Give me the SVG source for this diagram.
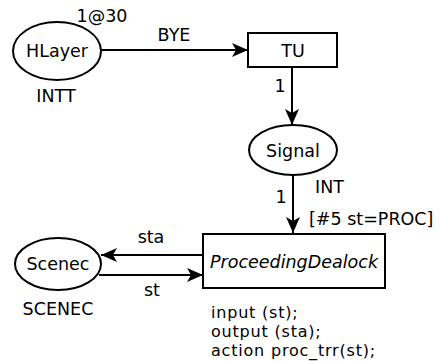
<svg xmlns="http://www.w3.org/2000/svg" width="440" height="361" viewBox="0 0 440 361">
<defs>
<marker id="ah" markerWidth="16" markerHeight="14" refX="16" refY="7" orient="auto" markerUnits="userSpaceOnUse">
<path d="M0,0 L16,7 L0,14 L4,7 Z" fill="#000"/>
</marker>
<style>
text{font-family:"DejaVu Sans","Verdana",sans-serif;font-size:17.5px;fill:#000}
.c{text-anchor:middle}
.code{font-size:16px;letter-spacing:0.8px}
.shape{fill:#fff;stroke:#000;stroke-width:2}
.arc{fill:none;stroke:#000;stroke-width:2;marker-end:url(#ah)}
</style>
</defs>
<g id="connectors">
<line class="arc" x1="101" y1="50" x2="248" y2="50"/>
<line class="arc" x1="292" y1="67" x2="292" y2="125"/>
<line class="arc" x1="293" y1="176" x2="293" y2="233"/>
<line class="arc" x1="203" y1="255" x2="101" y2="255"/>
<line class="arc" x1="99" y1="275" x2="203" y2="275"/>
<text x="174" y="41" class="c">BYE</text>
<text x="280" y="92" class="c">1</text>
<text x="281" y="203" class="c">1</text>
<text x="151" y="243" class="c">sta</text>
<text x="152" y="296" class="c">st</text>
</g>
<g id="HLayer">
<ellipse class="shape" cx="57" cy="51" rx="44" ry="29"/>
<text x="57" y="57" class="c">HLayer</text>
<text x="102" y="22" class="c">1@30</text>
<text x="56" y="102" class="c">INTT</text>
</g>
<g id="TU">
<rect class="shape" x="248" y="33" width="89" height="34"/>
<text x="293" y="57" class="c">TU</text>
</g>
<g id="Signal">
<ellipse class="shape" cx="293" cy="150" rx="44" ry="25"/>
<text x="293" y="157" class="c">Signal</text>
<text x="315" y="193">INT</text>
</g>
<g id="ProceedingDealock">
<rect class="shape" x="203" y="234" width="182" height="54"/>
<text x="294" y="268" class="c" font-style="italic">ProceedingDealock</text>
<text x="309" y="225">[#5 st=PROC]</text>
<text x="211" y="318" class="code">input (st);</text>
<text x="211" y="337" class="code">output (sta);</text>
<text x="211" y="356" class="code">action proc_trr(st);</text>
</g>
<g id="Scenec">
<ellipse class="shape" cx="58" cy="264" rx="43" ry="26"/>
<text x="58" y="270" class="c">Scenec</text>
<text x="58" y="315" class="c">SCENEC</text>
</g>
</svg>
